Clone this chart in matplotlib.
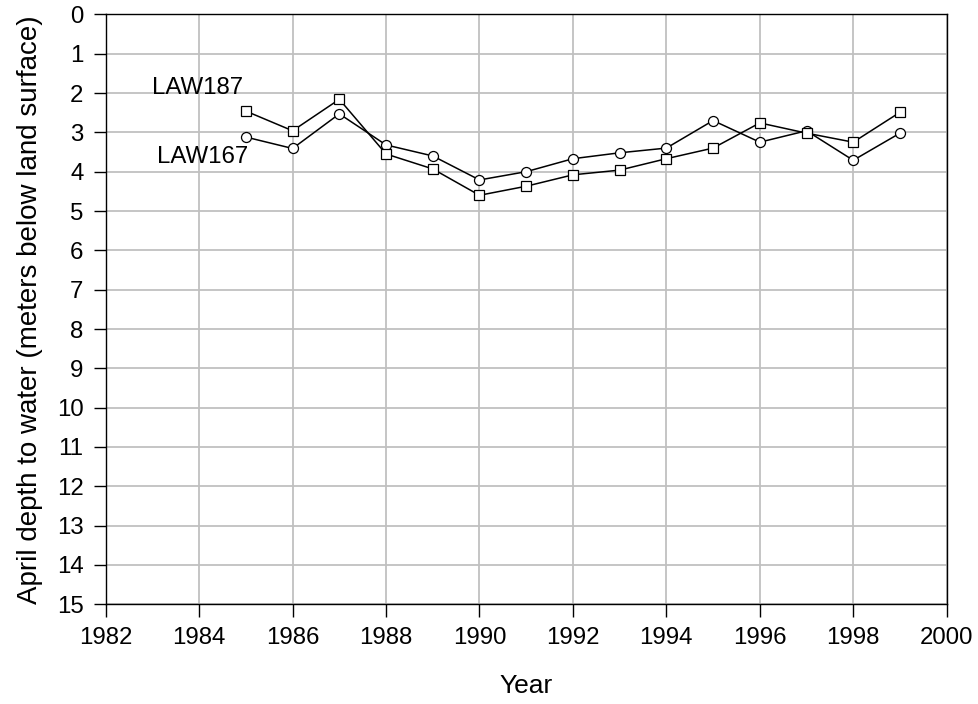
import matplotlib
matplotlib.use("Agg")
import matplotlib.pyplot as plt

years = list(range(1985, 2000))
law187 = [2.46, 2.96, 2.16, 3.55, 3.93, 4.60, 4.37, 4.08, 3.96, 3.67, 3.40, 2.76, 3.02, 3.25, 2.49]
law167 = [3.12, 3.41, 2.53, 3.32, 3.60, 4.21, 4.00, 3.67, 3.52, 3.40, 2.70, 3.25, 2.96, 3.71, 3.02]

plt.rcParams["font.family"] = ["Liberation Sans", "DejaVu Sans"]

fig = plt.figure(figsize=(9.79, 7.04), dpi=100)
ax = fig.add_axes([0.108, 0.1416, 0.859, 0.838])

ax.plot(years, law167, color="k", lw=1.1, marker="o", ms=7.2,
        mfc="white", mec="k", mew=0.9, zorder=3)
ax.plot(years, law187, color="k", lw=1.1, marker="s", ms=6.5,
        mfc="white", mec="k", mew=0.9, zorder=4)

ax.text(1982.98, 1.87, "LAW187", fontsize=17.3, va="center", ha="left")
ax.text(1983.09, 3.63, "LAW167", fontsize=17.3, va="center", ha="left")

ax.set_xlim(1982, 2000)
ax.set_ylim(15, 0)
ax.set_xticks(range(1982, 2001, 2))
ax.set_yticks(range(0, 16))
ax.grid(True, color="#c0c0c0", lw=1.3)
ax.set_axisbelow(True)
ax.tick_params(direction="out", length=9, width=1, labelsize=17.3, pad=7)
for s in ax.spines.values():
    s.set_linewidth(1.0)

ax.set_xlabel("Year", fontsize=19, labelpad=18)
ax.set_ylabel("April depth to water (meters below land surface)", fontsize=20, labelpad=10)

fig.savefig("out.png", dpi=100)
